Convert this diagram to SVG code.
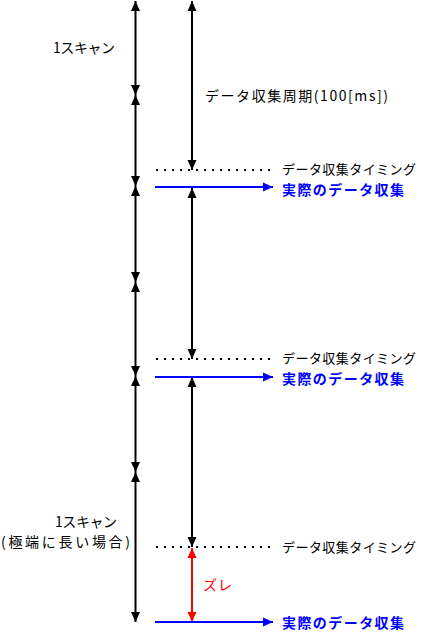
<svg xmlns="http://www.w3.org/2000/svg" width="421" height="634" viewBox="0 0 421 634">
<style>
.t{font-family:"Noto Sans CJK JP","Liberation Sans",sans-serif;font-size:14px;fill:#000}
.s{font-size:13px}
.b{fill:#0000ff;font-weight:bold}
.r{fill:#ff0000}
.k{stroke:#000;stroke-width:2;fill:none}
.bl{stroke:#0000ff;stroke-width:2;fill:none}
.rd{stroke:#ff0000;stroke-width:2;fill:none}
.dot{stroke:#000;stroke-width:2;stroke-dasharray:2 6;fill:none}
</style>
<defs>
<marker id="ak" markerUnits="userSpaceOnUse" markerWidth="10" markerHeight="10" refX="10" refY="5" orient="auto-start-reverse"><path d="M0,0.5 L10,5 L0,9.5 z" fill="#000"/></marker>
<marker id="ab" markerUnits="userSpaceOnUse" markerWidth="10" markerHeight="10" refX="10" refY="5" orient="auto-start-reverse"><path d="M0,0.5 L10,5 L0,9.5 z" fill="#0000ff"/></marker>
<marker id="ar" markerUnits="userSpaceOnUse" markerWidth="10" markerHeight="10" refX="10" refY="5" orient="auto-start-reverse"><path d="M0,0.5 L10,5 L0,9.5 z" fill="#ff0000"/></marker>
</defs>
<rect width="421" height="634" fill="#fff"/>
<g id="connectors">
<line class="k" x1="135.5" y1="1" x2="135.5" y2="95" marker-start="url(#ak)" marker-end="url(#ak)"/>
<line class="k" x1="135.5" y1="95" x2="135.5" y2="186" marker-start="url(#ak)" marker-end="url(#ak)"/>
<line class="k" x1="135.5" y1="186" x2="135.5" y2="282" marker-start="url(#ak)" marker-end="url(#ak)"/>
<line class="k" x1="135.5" y1="282" x2="135.5" y2="376" marker-start="url(#ak)" marker-end="url(#ak)"/>
<line class="k" x1="135.5" y1="376" x2="135.5" y2="472" marker-start="url(#ak)" marker-end="url(#ak)"/>
<line class="k" x1="135.5" y1="472" x2="135.5" y2="622" marker-start="url(#ak)" marker-end="url(#ak)"/>
<line class="k" x1="192" y1="1" x2="192" y2="170" marker-start="url(#ak)" marker-end="url(#ak)"/>
<line class="k" x1="192" y1="188" x2="192" y2="359" marker-start="url(#ak)" marker-end="url(#ak)"/>
<line class="k" x1="192" y1="377" x2="192" y2="547" marker-start="url(#ak)" marker-end="url(#ak)"/>
<line class="rd" x1="192" y1="548" x2="192" y2="622" marker-start="url(#ar)" marker-end="url(#ar)"/>
<line class="dot" x1="156" y1="170" x2="270" y2="170"/>
<line class="dot" x1="156" y1="359" x2="270" y2="359"/>
<line class="dot" x1="156" y1="547" x2="270" y2="547"/>
<line class="bl" x1="155" y1="187" x2="273" y2="187" marker-end="url(#ab)"/>
<line class="bl" x1="155" y1="377" x2="273" y2="377" marker-end="url(#ab)"/>
<line class="bl" x1="155" y1="622" x2="273" y2="622" marker-end="url(#ab)"/>
</g>
<g id="label-scan1"><text class="t" x="53" y="53" textLength="62">1スキャン</text></g>
<g id="label-period"><text class="t" x="205" y="101" textLength="183">データ収集周期(100[ms])</text></g>
<g id="timing1"><text class="t s" x="282" y="173.5" textLength="134">データ収集タイミング</text></g>
<g id="actual1"><text class="t b" x="282" y="194.5" textLength="122">実際のデータ収集</text></g>
<g id="timing2"><text class="t s" x="282" y="363" textLength="134">データ収集タイミング</text></g>
<g id="actual2"><text class="t b" x="282" y="384" textLength="122">実際のデータ収集</text></g>
<g id="timing3"><text class="t s" x="282" y="551.5" textLength="134">データ収集タイミング</text></g>
<g id="actual3"><text class="t b" x="282" y="627.5" textLength="122">実際のデータ収集</text></g>
<g id="label-scan-long">
<text class="t" x="55" y="527" textLength="62">1スキャン</text>
<text class="t" x="1" y="547" textLength="129">(極端に長い場合)</text>
</g>
<g id="label-zure"><text class="t r" x="203" y="590" textLength="29">ズレ</text></g>
</svg>
